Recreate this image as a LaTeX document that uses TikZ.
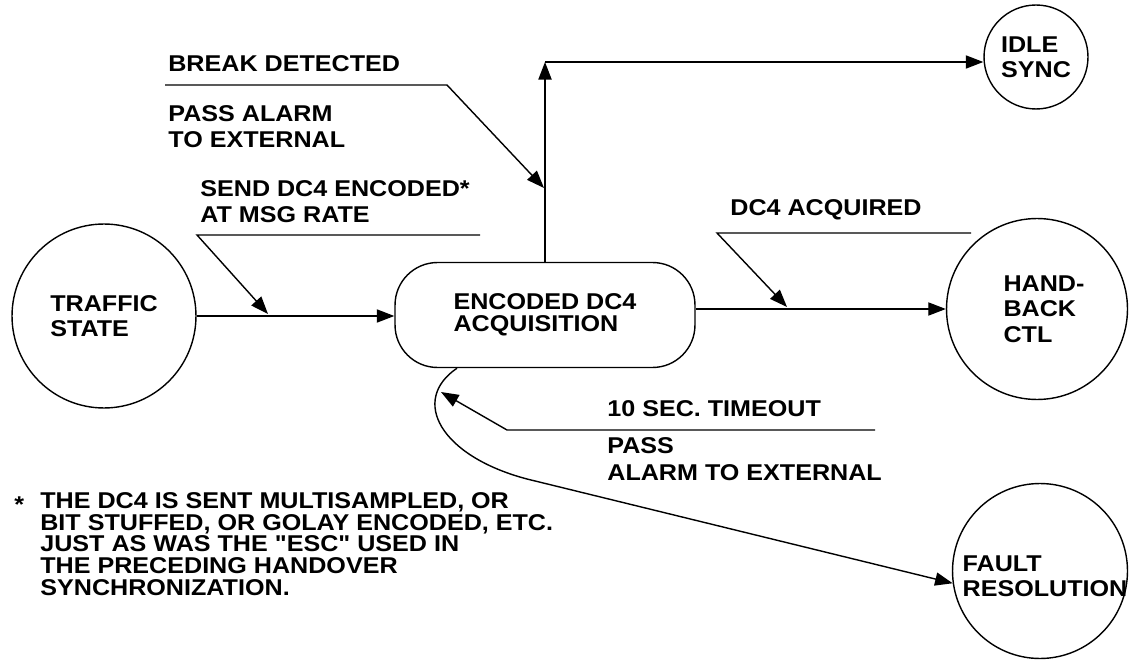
\documentclass[tikz,border=0pt]{standalone}
\usepackage{fontspec}
\newfontfamily\diafont{Liberation Sans Bold}[FakeStretch=1.1]
\usetikzlibrary{arrows.meta,positioning}

\begin{document}
\begin{tikzpicture}[
  x=0.02cm, y=-0.02cm,
  state/.style={draw, circle, line width=0.8pt, inner sep=0pt},
  box/.style={draw, rectangle, rounded corners=0.85cm, line width=0.8pt, minimum width=6cm, minimum height=2.1cm, align=left, font=\diafont\fontsize{13}{12.5}\selectfont},
  txt/.style={align=left, inner sep=0pt, font=\diafont\fontsize{13}{14.5}\selectfont},
  lbl/.style={anchor=base west, inner sep=0pt, align=left, font=\diafont\fontsize{13}{15.3}\selectfont},
  arr/.style={-{Triangle[length=10pt, width=7.5pt]}, line width=0.8pt}
]
  \useasboundingbox (0,0) rectangle (1132,662);

  \node[state, minimum size=3.68cm] (traffic) at (104,316) {};
  \node[txt] at (traffic) {TRAFFIC\\STATE};
  \node[box] (acq) at (545,315) {ENCODED DC4\\ACQUISITION};
  \node[state, minimum size=2.08cm] (idle) at (1036,57) {};
  \node[txt] at (idle) {IDLE\\SYNC};
  \node[state, minimum size=3.62cm] (handback) at (1037,309) {};
  \node[txt] at ([xshift=0.14cm]handback) {HAND-\\BACK\\CTL};
  \node[state, minimum size=3.5cm] (fault) at (1040,571) {};
  \node[txt] at ([xshift=0.1cm, yshift=-0.1cm]fault) {FAULT\\RESOLUTION};

  \coordinate (brk) at (545,62);
  \draw[arr] (traffic) -- (traffic -| acq.west);
  \draw[arr] (acq) -- (brk);
  \draw[arr] (brk) -- (brk -| idle.west);
  \draw[arr] (acq.east |- handback) -- (handback);
  \draw[arr] ([xshift=-1.76cm]acq.south) .. controls (410,400) and (440,456) .. (527,479) -- (fault.188);

  \node[lbl] (brklbl) at (168,72) {BREAK DETECTED};
  \node[lbl] (brkact) at (168,148) {PASS ALARM\\TO EXTERNAL};
  \node[lbl] (sendlbl) at (200,223) {SEND DC4 ENCODED*\\AT MSG RATE};
  \node[lbl] (acqlbl) at (730,215) {DC4 ACQUIRED};
  \node[lbl] (tmolbl) at (607,416) {10 SEC. TIMEOUT};
  \node[lbl] (tmoact) at (607,480) {PASS\\ALARM TO EXTERNAL};

  \coordinate (brkA) at (165,85);
  \coordinate (brkB) at (447,85);
  \coordinate (brkT) at (544,188);
  \coordinate (sendA) at (480,235);
  \coordinate (sendB) at (197,235);
  \coordinate (sendT) at (268,314);
  \coordinate (acqA) at (971,233);
  \coordinate (acqB) at (717,233);
  \coordinate (acqT) at (787,307);
  \coordinate (tmoA) at (875,430);
  \coordinate (tmoB) at (507,430);
  \coordinate (tmoT) at (441,392);
  \draw[arr] (brkA) -- (brkB) -- (brkT);
  \draw[arr] (sendA) -- (sendB) -- (sendT);
  \draw[arr] (acqA) -- (acqB) -- (acqT);
  \draw[arr] (tmoA) -- (tmoB) -- (tmoT);

  \node[lbl] (star) at (14,512) {*};
  \node[lbl, font=\diafont\fontsize{13}{12.3}\selectfont] (note) at (40,595)
    {THE DC4 IS SENT MULTISAMPLED, OR\\BIT STUFFED, OR GOLAY ENCODED, ETC.\\JUST AS WAS THE "ESC" USED IN\\THE PRECEDING HANDOVER\\SYNCHRONIZATION.};
\end{tikzpicture}
\end{document}
